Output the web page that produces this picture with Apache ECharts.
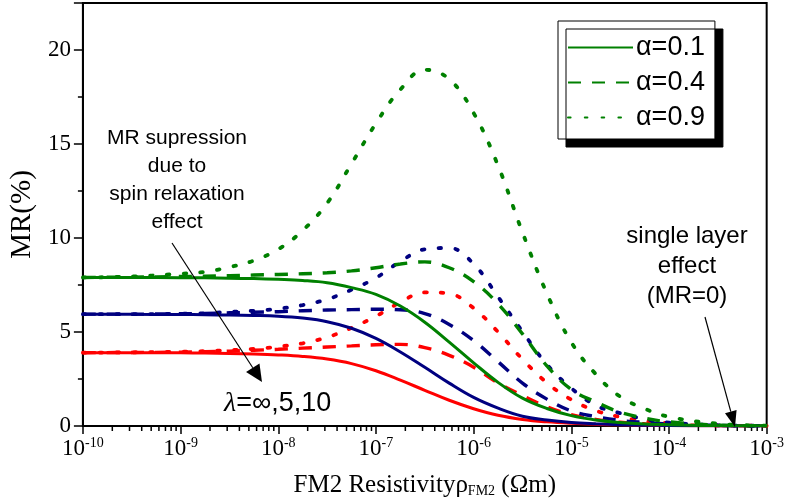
<!DOCTYPE html>
<html>
<head>
<meta charset="utf-8">
<script src="https://cdn.jsdelivr.net/npm/echarts@6/dist/echarts.min.js"></script>
<style>
  html, body { margin: 0; padding: 0; background: #fff; }
  #chart { width: 787px; height: 503px; }
</style>
</head>
<body>
<div id="chart"></div>
<script>
// log10 of FM2 resistivity (Ohm m) at which MR is sampled
const rhoExp = [-10, -9.5, -9, -8.75, -8.5, -8.25, -8, -7.75, -7.5, -7.25, -7, -6.75, -6.5,
                -6.25, -6, -5.75, -5.5, -5.25, -5, -4.75, -4.5, -4.25, -4, -3.5, -3];

// MR (%) for lambda = infinity
const mrInfA01 = [7.9, 7.9, 7.89, 7.88, 7.86, 7.84, 7.8, 7.74, 7.62, 7.36, 7.0, 6.38, 5.52,
                  4.46, 3.36, 2.32, 1.48, 0.93, 0.55, 0.32, 0.19, 0.11, 0.07, 0.02, 0.01];
const mrInfA04 = [7.9, 7.92, 7.95, 7.97, 8.0, 8.03, 8.06, 8.1, 8.15, 8.25, 8.42, 8.62, 8.73,
                  8.42, 7.68, 6.5, 4.9, 3.2, 1.94, 1.28, 0.73, 0.42, 0.22, 0.05, 0.01];
const mrInfA09 = [7.9, 7.95, 8.1, 8.2, 8.45, 8.8, 9.4, 10.4, 11.85, 13.95, 16.1, 17.9, 18.95,
                  18.45, 16.65, 13.85, 10.3, 7.05, 4.45, 2.76, 1.56, 0.92, 0.49, 0.12, 0.02];

// MR (%) for lambda = 5
const mr5A01 = [5.95, 5.94, 5.93, 5.92, 5.9, 5.88, 5.84, 5.74, 5.55, 5.2, 4.66, 3.94, 3.12,
                2.28, 1.52, 0.95, 0.52, 0.32, 0.19, 0.12, 0.07, 0.04, 0.03, 0.01, 0.0];
const mr5A04 = [5.95, 5.95, 5.97, 5.99, 6.02, 6.05, 6.08, 6.13, 6.17, 6.19, 6.21, 6.18, 5.98,
                5.4, 4.54, 3.42, 2.28, 1.43, 0.8, 0.5, 0.3, 0.19, 0.11, 0.03, 0.01];
const mr5A09 = [5.95, 5.95, 5.97, 6.0, 6.07, 6.13, 6.24, 6.43, 6.74, 7.25, 7.88, 8.75, 9.4,
                9.47, 8.62, 6.87, 5.02, 3.27, 2.01, 1.1, 0.68, 0.37, 0.18, 0.04, 0.01];

// MR (%) for lambda = 10
const mr10A01 = [3.9, 3.9, 3.89, 3.88, 3.86, 3.83, 3.78, 3.7, 3.56, 3.32, 2.94, 2.44, 1.9,
                 1.37, 0.92, 0.57, 0.35, 0.22, 0.14, 0.09, 0.06, 0.04, 0.02, 0.01, 0.0];
const mr10A04 = [3.9, 3.91, 3.93, 3.95, 3.98, 4.03, 4.08, 4.14, 4.2, 4.26, 4.32, 4.34, 4.17,
                 3.76, 3.13, 2.29, 1.62, 1.03, 0.6, 0.35, 0.2, 0.12, 0.07, 0.02, 0.0];
const mr10A09 = [3.9, 3.92, 3.95, 3.98, 4.03, 4.1, 4.22, 4.4, 4.72, 5.22, 5.84, 6.58, 7.11,
                 7.04, 6.27, 5.0, 3.55, 2.3, 1.4, 0.82, 0.48, 0.27, 0.15, 0.03, 0.01];

const legendNames = ['α=0.1', 'α=0.4', 'α=0.9'];
const yTicks = [0, 5, 10, 15, 20];

const GREEN = '#008000', NAVY = '#000080', RED = '#ff0000';
const SANS = '"Liberation Sans", Arial, sans-serif';
const SERIF = '"Liberation Serif", "Times New Roman", serif';

const dashStyles = {
  solid: { type: 'solid', cap: 'butt', width: 3 },
  dashed: { type: [13, 11], cap: 'butt', width: 3.4 },
  dotted: { type: [2.6, 14.2], cap: 'round', width: 3.8 }
};

function toPoints(values) {
  return rhoExp.map((e, i) => [Math.pow(10, e), values[i]]);
}

function curve(name, values, color, style) {
  const s = dashStyles[style];
  return {
    name: name,
    type: 'line',
    data: toPoints(values),
    smooth: 0.4,
    symbol: 'none',
    showSymbol: false,
    animation: false,
    lineStyle: { color: color, width: s.width, type: s.type, cap: s.cap },
    itemStyle: { color: color },
    z: 3
  };
}

// minor ticks of the logarithmic axis (2..9 in every decade)
const minorTickValues = [];
for (let d = -10; d < -3; d++) {
  for (let k = 2; k <= 9; k++) minorTickValues.push(k * Math.pow(10, d));
}

const series = [
  curve('λ=10, α=0.9', mr10A09, RED, 'dotted'),
  curve('λ=10, α=0.4', mr10A04, RED, 'dashed'),
  curve('λ=10, α=0.1', mr10A01, RED, 'solid'),
  curve('λ=5, α=0.9', mr5A09, NAVY, 'dotted'),
  curve('λ=5, α=0.4', mr5A04, NAVY, 'dashed'),
  curve('λ=5, α=0.1', mr5A01, NAVY, 'solid'),
  curve(legendNames[2], mrInfA09, GREEN, 'dotted'),
  curve(legendNames[1], mrInfA04, GREEN, 'dashed'),
  curve(legendNames[0], mrInfA01, GREEN, 'solid'),
  {
    type: 'custom',
    name: 'minor ticks',
    data: minorTickValues.map(v => [v]),
    clip: false,
    silent: true,
    animation: false,
    encode: { x: 0 },
    renderItem: function (params, api) {
      const p = api.coord([api.value(0), 0]);
      return {
        type: 'line',
        shape: { x1: p[0], y1: p[1], x2: p[0], y2: p[1] + 5 },
        style: { stroke: '#000', lineWidth: 1.5 }
      };
    },
    z: 1
  }
];

function arrow(x1, y1, x2, y2, headLen, headHalf) {
  const dx = x2 - x1, dy = y2 - y1;
  const len = Math.sqrt(dx * dx + dy * dy);
  const ux = dx / len, uy = dy / len;
  const bx = x2 - ux * headLen, by = y2 - uy * headLen;
  return [
    { type: 'line', shape: { x1: x1, y1: y1, x2: bx, y2: by }, style: { stroke: '#000', lineWidth: 1.2 }, z: 10 },
    { type: 'polygon', shape: { points: [[x2, y2], [bx - uy * headHalf, by + ux * headHalf], [bx + uy * headHalf, by - ux * headHalf]] },
      style: { fill: '#000' }, z: 10 }
  ];
}

const chart = echarts.init(document.getElementById('chart'), null, { renderer: 'canvas' });

chart.setOption({
  backgroundColor: '#fff',
  animation: false,
  grid: { left: 82, right: 18, top: 3, bottom: 75, show: true, borderColor: '#000', borderWidth: 2, containLabel: false },
  legend: {
    data: legendNames,
    orient: 'vertical',
    left: 558,
    top: 21,
    padding: [13, 10, 8, 9],
    itemWidth: 65,
    itemHeight: 14,
    itemGap: 8,
    backgroundColor: '#fff',
    borderColor: '#000',
    borderWidth: 1,
    shadowColor: '#000',
    shadowBlur: 0,
    shadowOffsetX: 8,
    shadowOffsetY: 8,
    itemStyle: { opacity: 0 },
    textStyle: { fontFamily: SANS, fontSize: 27, color: '#000', lineHeight: 27, padding: [0, 0, 0, -2] }
  },
  xAxis: {
    type: 'log',
    logBase: 10,
    min: 1e-10,
    max: 1e-3,
    splitNumber: 7,
    interval: 1,
    axisLine: { lineStyle: { color: '#000', width: 2 } },
    axisTick: { inside: false, length: 8, lineStyle: { color: '#000', width: 1.5 } },
    splitLine: { show: false },
    axisLabel: {
      margin: 10,
      formatter: function (v) {
        const e = Math.round(Math.log10(v));
        return '{b|10}{s|' + e + '}';
      },
      rich: {
        b: { fontFamily: SERIF, fontSize: 23, color: '#000' },
        s: { fontFamily: SERIF, fontSize: 14, color: '#000', padding: [0, 0, 12, 0] }
      }
    },
    name: '{a|FM2 Resistivityρ}{sub|FM2}{a| (Ωm)}',
    nameLocation: 'middle',
    nameGap: 46,
    nameTextStyle: {
      rich: {
        a: { fontFamily: SERIF, fontSize: 25, color: '#000' },
        sub: { fontFamily: SERIF, fontSize: 14, color: '#000', padding: [12, 0, 0, 0] }
      }
    }
  },
  yAxis: {
    type: 'value',
    min: 0,
    max: 22.5,
    interval: 5,
    axisLine: { show: true, lineStyle: { color: '#000', width: 2 } },
    axisTick: { show: true, inside: false, length: 9, lineStyle: { color: '#000', width: 1.5 } },
    minorTick: { show: true, splitNumber: 2, length: 5, lineStyle: { color: '#000', width: 1.5 } },
    splitLine: { show: false },
    axisLabel: { fontFamily: SERIF, fontSize: 23, color: '#000', margin: 12,
      formatter: function (v) { return yTicks.indexOf(v) >= 0 ? String(v) : ''; } },
    name: 'MR(%)',
    nameLocation: 'middle',
    nameGap: 39,
    nameRotate: 90,
    nameTextStyle: { fontFamily: SERIF, fontSize: 29, color: '#000' }
  },
  series: series,
  graphic: [
    {
      type: 'text', left: 100, top: 124, z: 10,
      style: { text: 'MR supression\ndue to\nspin relaxation\neffect', font: '21px ' + SANS, fill: '#000',
               textAlign: 'center', lineHeight: 28, width: 154, align: 'center' }
    },
    {
      type: 'text', left: 224, top: 390, z: 10,
      style: {
        text: '{l|λ}{t|=∞,5,10}',
        rich: {
          l: { fontFamily: SERIF, fontStyle: 'italic', fontSize: 28, fill: '#000' },
          t: { fontFamily: SANS, fontSize: 27, fill: '#000' }
        }
      }
    },
    {
      type: 'text', left: 622, top: 221, z: 10,
      style: { text: 'single layer\neffect\n(MR=0)', font: '24px ' + SANS, fill: '#000',
               textAlign: 'center', lineHeight: 30, width: 130, align: 'center' }
    }
  ].concat(arrow(172, 243, 262, 382, 17, 8)).concat(arrow(705, 317, 735, 427, 16, 6))
});
</script>
</body>
</html>
